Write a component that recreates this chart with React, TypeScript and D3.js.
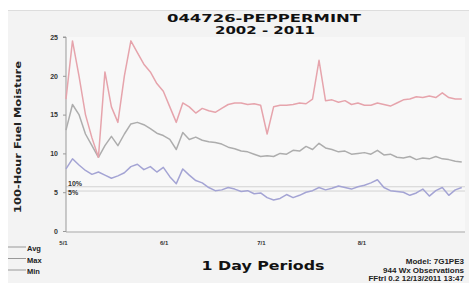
import React, { useEffect } from "react";
import * as d3 from "d3";

// day offsets from 5/1, every 2 days
const days = d3.range(0, 123, 2);

const maxValues = [
  17, 24.5, 20, 15, 12, 9.5, 20.5, 16, 14, 20, 24.5, 23, 21.5, 20.5, 19, 18,
  16, 14, 16.5, 16, 15.2, 15.8, 15.5, 15.3, 15.8, 16.3, 16.5, 16.5, 16.3, 16.4,
  16.2, 12.5, 16, 16.2, 16.2, 16.3, 16.5, 16.4, 17, 22, 16.8, 16.9, 16.6, 16.8,
  16.3, 16.5, 16.2, 16.2, 16.5, 16.3, 16.1, 16.5, 16.9, 17, 17.3, 17.2, 17.4,
  17.2, 17.8, 17.2, 17, 17,
];

const avgValues = [
  13, 16.3, 15, 12.5, 11, 9.5, 11, 12.2, 11, 12.5, 13.8, 14, 13.7, 13.2, 12.6,
  12.3, 11.8, 10.5, 12.7, 11.8, 12.1, 11.7, 11.5, 11.4, 11.2, 10.8, 10.6, 10.3,
  10.2, 9.9, 9.6, 9.7, 9.6, 10, 9.9, 10.4, 10.3, 10.9, 10.5, 11.3, 10.7, 10.5,
  10.2, 10.3, 9.9, 10, 10.1, 9.9, 10.4, 9.8, 9.9, 9.5, 9.4, 9.6, 9.2, 9.4, 9.3,
  9.6, 9.3, 9.2, 9, 8.9,
];

const minValues = [
  8, 9.3, 8.5, 7.8, 7.3, 7.6, 7.2, 6.8, 7.1, 7.5, 8.3, 8.6, 7.9, 8.3, 7.6, 8.2,
  7, 6.1, 8, 7.2, 6.5, 6.2, 5.6, 5.2, 5.3, 5.6, 5.4, 5.1, 5.2, 4.8, 4.9, 4.3, 4,
  4.2, 4.7, 4.3, 4.6, 5, 5.2, 5.6, 5.3, 5.5, 5.8, 5.6, 5.4, 5.7, 5.9, 6.2, 6.6,
  5.6, 5.2, 5.1, 5, 4.6, 4.9, 5.4, 4.5, 5.2, 5.6, 4.6, 5.3, 5.6,
];

const monthDays = [0, 31, 61, 92];
const monthLabels = ["5/1", "6/1", "7/1", "8/1"];
const yTicks = [0, 5, 10, 15, 20, 25];
const percentiles = [
  { label: "10%", value: 5.7 },
  { label: "5%", value: 5.15 },
];
const legendItems = ["Avg", "Max", "Min"];
const footerLines = ["Model: 7G1PE3", "944 Wx Observations", "FFtrl 0.2 12/13/2011 13:47"];

const width = 469;
const height = 283;

export default function App() {
  const svgRef = React.useRef(null);

  useEffect(() => {
    const svg = d3.select(svgRef.current);
    svg.selectAll("*").remove();

    const font = "'Liberation Sans', Arial, sans-serif";

    svg.append("rect").attr("width", width).attr("height", height).attr("fill", "#ffffff");
    svg
      .append("rect")
      .attr("x", 8)
      .attr("y", 10)
      .attr("width", width - 8)
      .attr("height", height - 10)
      .attr("fill", "#f3f3f3");
    svg
      .append("line")
      .attr("x1", 8)
      .attr("x2", width)
      .attr("y1", 10.5)
      .attr("y2", 10.5)
      .attr("stroke", "#dddddd");

    const xScale = d3.scaleLinear().domain([0, 123]).range([66, 465]);
    const yScale = d3.scaleLinear().domain([0, 25]).range([231, 37]);

    svg
      .append("rect")
      .attr("x", 66)
      .attr("y", 37)
      .attr("width", 399)
      .attr("height", 194)
      .attr("fill", "#f8f8f8");

    // percentile lines
    percentiles.forEach((p, i) => {
      svg
        .append("line")
        .attr("x1", 66)
        .attr("x2", 465)
        .attr("y1", yScale(p.value))
        .attr("y2", yScale(p.value))
        .attr("stroke", "#d2d2d2")
        .attr("stroke-width", 1);
      svg
        .append("text")
        .attr("x", 68)
        .attr("y", yScale(p.value) + (i === 0 ? -0.5 : 4))
        .attr("fill", "#333")
        .style("font-family", font)
        .style("font-weight", "bold")
        .style("font-size", "7px")
        .text(p.label);
    });

    // axes
    const yAxis = d3
      .axisLeft(yScale)
      .tickValues(yTicks)
      .tickSize(3)
      .tickFormat((d) => String(d));
    const gy = svg.append("g").attr("transform", "translate(66,0)").call(yAxis);
    gy.select(".domain").attr("stroke", "#999").attr("d", "M-3,37H0V232");
    gy.selectAll("line").attr("stroke", "#999");
    gy.selectAll("text")
      .attr("fill", "#333")
      .attr("x", -8)
      .style("font-family", font)
      .style("font-weight", "bold")
      .style("font-size", "7px");

    const xAxis = d3
      .axisBottom(xScale)
      .tickValues(monthDays)
      .tickSize(0)
      .tickFormat((d, i) => monthLabels[i]);
    const gx = svg.append("g").attr("transform", "translate(0,232)").call(xAxis);
    gx.select(".domain").attr("stroke", "#aaa").attr("d", "M66,0H465");
    gx.selectAll("text")
      .attr("fill", "#333")
      .attr("y", 9)
      .attr("dx", "-3")
      .style("font-family", font)
      .style("font-weight", "bold")
      .style("font-size", "6px");

    // series
    const series = [
      { values: minValues, color: "#a4a4d4" },
      { values: avgValues, color: "#adadad" },
      { values: maxValues, color: "#e6a4ac" },
    ];
    const line = d3
      .line<number>()
      .x((d, i) => xScale(days[i]))
      .y((d) => yScale(d))
      .curve(d3.curveLinear);
    series.forEach((s) => {
      svg
        .append("path")
        .datum(s.values)
        .attr("d", line)
        .attr("fill", "none")
        .attr("stroke", s.color)
        .attr("stroke-width", 1.5)
        .attr("stroke-linejoin", "round");
    });

    // titles
    svg
      .append("text")
      .attr("x", 264)
      .attr("y", 22)
      .attr("text-anchor", "middle")
      .attr("fill", "#111")
      .attr("textLength", 194)
      .attr("lengthAdjust", "spacingAndGlyphs")
      .style("font-family", "'DejaVu Sans', sans-serif")
      .style("font-weight", "bold")
      .style("font-size", "10px")
      .text("044726-PEPPERMINT");
    svg
      .append("text")
      .attr("x", 265)
      .attr("y", 34)
      .attr("text-anchor", "middle")
      .attr("fill", "#111")
      .attr("textLength", 100)
      .attr("lengthAdjust", "spacingAndGlyphs")
      .style("font-family", "'DejaVu Sans', sans-serif")
      .style("font-weight", "bold")
      .style("font-size", "10px")
      .text("2002 - 2011");

    svg
      .append("text")
      .attr("transform", "translate(21,137) rotate(-90)")
      .attr("text-anchor", "middle")
      .attr("fill", "#222")
      .attr("textLength", 152)
      .attr("lengthAdjust", "spacingAndGlyphs")
      .style("font-family", "'DejaVu Sans', sans-serif")
      .style("font-weight", "bold")
      .style("font-size", "9px")
      .text("100-Hour Fuel Moisture");

    svg
      .append("text")
      .attr("x", 263)
      .attr("y", 270)
      .attr("text-anchor", "middle")
      .attr("fill", "#111")
      .attr("textLength", 123)
      .attr("lengthAdjust", "spacingAndGlyphs")
      .style("font-family", "'DejaVu Sans', sans-serif")
      .style("font-weight", "bold")
      .style("font-size", "12px")
      .text("1 Day Periods");

    footerLines.forEach((t, i) => {
      svg
        .append("text")
        .attr("x", 464)
        .attr("y", 264 + i * 8.5)
        .attr("text-anchor", "end")
        .attr("fill", "#222")
        .style("font-family", font)
        .style("font-weight", "bold")
        .style("font-size", "8px")
        .text(t);
    });

    // legend
    legendItems.forEach((t, i) => {
      const y = 247 + i * 11.5;
      svg
        .append("line")
        .attr("x1", 8)
        .attr("x2", 26)
        .attr("y1", y)
        .attr("y2", y)
        .attr("stroke", "#999")
        .attr("stroke-width", 1);
      svg
        .append("text")
        .attr("x", 27)
        .attr("y", y + 4)
        .attr("fill", "#222")
        .style("font-family", font)
        .style("font-weight", "bold")
        .style("font-size", "7.5px")
        .text(t);
    });
  }, []);

  return (
    <svg
      ref={svgRef}
      width={width}
      height={height}
      style={{ position: "absolute", left: 0, top: 0, display: "block" }}
    />
  );
}
